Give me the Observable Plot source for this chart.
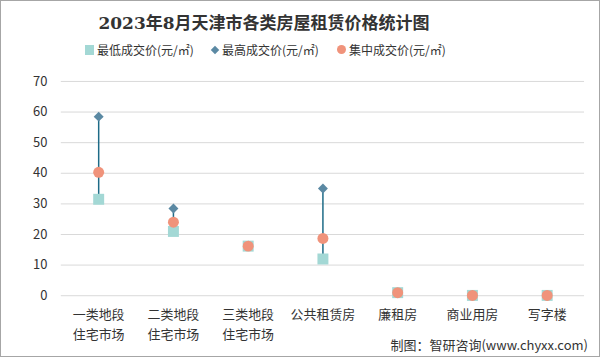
<!DOCTYPE html>
<html><head><meta charset="utf-8">
<script src="https://cdn.jsdelivr.net/npm/d3@7"></script>
<script src="https://cdn.jsdelivr.net/npm/@observablehq/plot@0.6"></script>
<style>
body{margin:0;background:#fff;}
#wrap{position:relative;width:598px;height:355px;border:1px solid #a6a6a6;overflow:hidden;background:#fff;font-family:"Noto Sans CJK SC",sans-serif;}
#title{position:absolute;left:0;width:526px;top:8px;text-align:center;font-size:17px;font-weight:bold;color:#333;font-family:"DejaVu Serif","Noto Sans CJK SC",serif;}
#legend{position:absolute;left:84px;top:40px;font-size:12px;color:#333;display:flex;align-items:center;white-space:nowrap;}
#legend .it{display:flex;align-items:center;width:126px;}
#legend .sw{display:inline-block;margin-right:3px;}
#chart{position:absolute;left:0;top:62px;}
#caption{position:absolute;right:11px;top:334px;font-size:13px;color:#333;}
</style></head>
<body><div id="wrap"><div id="title"></div><div id="legend"></div><div id="chart"></div><div id="caption"></div></div>
<script>
const titleText = "2023年8月天津市各类房屋租赁价格统计图";
const captionText = "制图：智研咨询(www.chyxx.com)";
const seriesNames = ["最低成交价(元/㎡)", "最高成交价(元/㎡)", "集中成交价(元/㎡)"];
const categories = ["一类地段住宅市场", "二类地段住宅市场", "三类地段住宅市场", "公共租赁房", "廉租房", "商业用房", "写字楼"];
const tickLabels = ["一类地段\n住宅市场", "二类地段\n住宅市场", "三类地段\n住宅市场", "公共租赁房", "廉租房", "商业用房", "写字楼"];
const minPrice = [31.5, 21.0, 16.2, 12.0, 1.0, 0.1, 0.1];
const maxPrice = [58.5, 28.5, 16.3, 35.0, 1.0, 0.1, 0.1];
const midPrice = [40.3, 24.0, 16.2, 18.7, 1.0, 0.1, 0.1];
const yTicks = [0, 10, 20, 30, 40, 50, 60, 70];

const colors = ["#a3d8d5", "#5b89a3", "#f0937b"];
const data = categories.map((c, i) => ({cat: c, min: minPrice[i], max: maxPrice[i], mid: midPrice[i]}));

document.getElementById("title").textContent = titleText;
document.getElementById("caption").textContent = captionText;
const legend = document.getElementById("legend");
const shapes = [
  `<span class="sw" style="width:9px;height:10px;background:${colors[0]}"></span>`,
  `<span class="sw" style="width:6px;height:6px;background:${colors[1]};transform:rotate(45deg);margin-right:4px;margin-left:1px"></span>`,
  `<span class="sw" style="width:9px;height:9px;border-radius:50%;background:${colors[2]}"></span>`
];
seriesNames.forEach((n, i) => {
  const d = document.createElement("span");
  d.className = "it";
  d.innerHTML = shapes[i] + `<span>${n}</span>`;
  legend.appendChild(d);
});

const diamond = {draw(ctx, size){ const h = 5; ctx.moveTo(0,-h); ctx.lineTo(h,0); ctx.lineTo(0,h); ctx.lineTo(-h,0); ctx.closePath(); }};
const squareSym = {draw(ctx, size){ const h = 5.5; ctx.rect(-h,-h,2*h,2*h); }};

const labelMap = new Map(categories.map((c, i) => [c, tickLabels[i]]));
const plot = Plot.plot({
  width: 600, height: 293,
  marginTop: 18, marginBottom: 60, marginLeft: 60, marginRight: 15,
  style: {fontFamily: "'Noto Sans CJK SC', sans-serif", fontSize: "13px", color: "#333", background: "transparent"},
  x: {type: "band", domain: categories, padding: 0, label: null},
  y: {domain: [0, 70], ticks: yTicks, label: null},
  marks: [
    Plot.gridY(yTicks, {stroke: "#d9d9d9", strokeOpacity: 1, strokeWidth: 1}),
    Plot.ruleX(data, {x: "cat", y1: "min", y2: "max", stroke: "#1d6b87", strokeWidth: 1.5}),
    Plot.dot(data, {x: "cat", y: "min", symbol: squareSym, fill: colors[0], r: 6}),
    Plot.dot(data, {x: "cat", y: "max", symbol: diamond, fill: colors[1], r: 5}),
    Plot.dot(data, {x: "cat", y: "mid", symbol: "circle", fill: colors[2], r: 5.5}),
    Plot.axisX({tickSize: 0, tickPadding: 10, tickFormat: d => labelMap.get(d), fontSize: 13, lineHeight: 1.5}),
    Plot.axisY({ticks: yTicks, tickSize: 0, tickPadding: 14, fontSize: 13})
  ]
});
document.getElementById("chart").appendChild(plot);
</script></body></html>
